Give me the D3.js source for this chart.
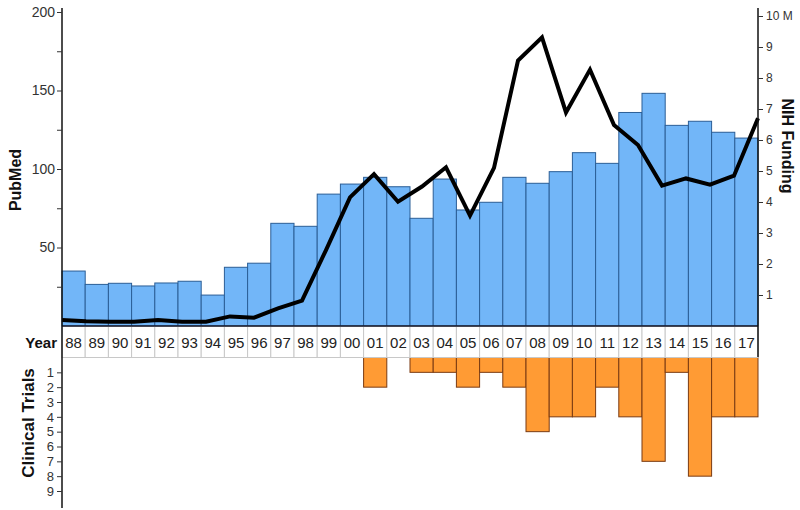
<!DOCTYPE html>
<html><head><meta charset="utf-8">
<script src="https://cdn.jsdelivr.net/npm/d3@7"></script>
<style>body{margin:0;background:#fff;} text{font-family:"Liberation Sans",Arial,sans-serif;}</style>
</head><body>
<svg id="c" width="800" height="510"></svg>
<script>
const years = ["88","89","90","91","92","93","94","95","96","97","98","99","00","01","02","03","04","05","06","07","08","09","10","11","12","13","14","15","16","17"];
const pubmed = [35,26.5,27.2,25.5,27.4,28.5,19.7,37.4,40,65.4,63.5,84,90.4,94.7,88.7,68.6,93.6,73.9,78.8,94.7,90.9,98.3,110.4,103.6,136,148.2,127.8,130.4,123.4,119.7];
const nihFunding = [0.19,0.15,0.14,0.14,0.19,0.14,0.14,0.31,0.27,0.57,0.82,2.45,4.15,4.9,4.01,4.5,5.12,3.56,5.1,8.56,9.31,6.89,8.27,6.48,5.84,4.53,4.76,4.56,4.85,6.70];
const clinicalTrials = [0,0,0,0,0,0,0,0,0,0,0,0,0,2,0,1,1,2,1,2,5,4,4,2,4,7,1,8,4,4];
const pubmedTicks = [25,50,75,100,125,150,175,200];
const nihTicks = [1,2,3,4,5,6,7,8,9,10];
const ctTicks = [1,2,3,4,5,6,7,8,9];

const svg = d3.select("#c");
const L = 62, R = 758;
const x = d3.scaleBand().domain(years).range([L, R]).padding(0);
const xl = d3.scalePoint().domain(years).range([L, R]);
const yL = d3.scaleLinear().domain([0,200]).range([326,12]);
const yR = d3.scaleLinear().domain([0,10]).range([326,16]);
const yC = d3.scaleLinear().domain([0,9]).range([357.5,491]);

// PubMed bars
svg.append("g").selectAll("rect").data(years).join("rect")
  .attr("x", d => x(d)).attr("width", x.bandwidth())
  .attr("y", (d,i) => yL(pubmed[i])).attr("height", (d,i) => yL(0) - yL(pubmed[i]))
  .attr("fill", "#72b6f8").attr("stroke", "#2b5e96").attr("stroke-width", 1);

// Clinical trial bars
svg.append("g").selectAll("rect").data(years.filter((d,i)=>clinicalTrials[i]>0)).join("rect")
  .attr("x", d => x(d)).attr("width", x.bandwidth())
  .attr("y", yC(0)).attr("height", d => yC(clinicalTrials[years.indexOf(d)]) - yC(0))
  .attr("fill", "#ff9b34").attr("stroke", "#7a3b12").attr("stroke-width", 1);

// Year row
const yr = svg.append("g");
yr.selectAll("rect").data(years).join("rect")
  .attr("x", d => x(d)).attr("width", x.bandwidth())
  .attr("y", 326.5).attr("height", 31)
  .attr("fill", "#fff").attr("stroke", "#c8c8c8").attr("stroke-width", 1);
yr.selectAll("text").data(years).join("text")
  .attr("x", d => x(d) + x.bandwidth()/2).attr("y", 347.5)
  .attr("text-anchor", "middle").attr("font-size", 15).attr("fill", "#222").text(d => d);
svg.append("line").attr("x1", L).attr("x2", R).attr("y1", 326).attr("y2", 326).attr("stroke", "#1a1a2a").attr("stroke-width", 1.5);
svg.append("text").attr("x", 57).attr("y", 347.5).attr("text-anchor", "end")
  .attr("font-size", 15).attr("font-weight", "bold").attr("fill", "#111").text("Year");

// NIH funding line
svg.append("path").datum(years)
  .attr("d", d3.line().x(d => xl(d)).y((d,i) => yR(nihFunding[i])))
  .attr("fill", "none").attr("stroke", "#000").attr("stroke-width", 4).attr("stroke-linejoin", "miter");

// Left axis
svg.append("line").attr("x1", L).attr("x2", L).attr("y1", 8).attr("y2", 508).attr("stroke", "#111").attr("stroke-width", 1.5);
const axL = svg.append("g").attr("transform", `translate(${L},0)`)
  .call(d3.axisLeft(yL).tickValues(pubmedTicks).tickSize(5).tickPadding(2).tickFormat(d => d % 50 === 0 ? d : ""));
axL.select(".domain").remove();
axL.selectAll("text").attr("font-size", 14).attr("fill", "#333").attr("font-family", "Liberation Sans, Arial, sans-serif");
axL.selectAll("line").attr("stroke", "#333");

// Clinical trials axis
const axC = svg.append("g").attr("transform", `translate(${L},0)`)
  .call(d3.axisLeft(yC).tickValues(ctTicks).tickSize(5).tickPadding(3));
axC.select(".domain").remove();
axC.selectAll("text").attr("font-size", 13).attr("fill", "#333").attr("font-family", "Liberation Sans, Arial, sans-serif");
axC.selectAll("line").attr("stroke", "#333");

// Right axis
svg.append("line").attr("x1", R).attr("x2", R).attr("y1", 8).attr("y2", 357).attr("stroke", "#111").attr("stroke-width", 1.5);
const axR = svg.append("g").attr("transform", `translate(${R},0)`)
  .call(d3.axisRight(yR).tickValues(nihTicks).tickSize(5).tickPadding(3).tickFormat(d => d === 10 ? "10 M" : d));
axR.select(".domain").remove();
axR.selectAll("text").attr("font-size", 12).attr("fill", "#333").attr("font-family", "Liberation Sans, Arial, sans-serif");
axR.selectAll("line").attr("stroke", "#333");

// Axis titles
svg.append("text").attr("transform", "translate(21,180) rotate(-90)").attr("text-anchor", "middle")
  .attr("font-size", 16).attr("font-weight", "bold").attr("fill", "#111").text("PubMed");
svg.append("text").attr("transform", "translate(34,423) rotate(-90)").attr("text-anchor", "middle")
  .attr("font-size", 17).attr("font-weight", "bold").attr("fill", "#111").text("Clinical Trials");
svg.append("text").attr("transform", "translate(782,146) rotate(90)").attr("text-anchor", "middle")
  .attr("font-size", 16).attr("font-weight", "bold").attr("fill", "#111").text("NIH Funding");
</script>
</body></html>
